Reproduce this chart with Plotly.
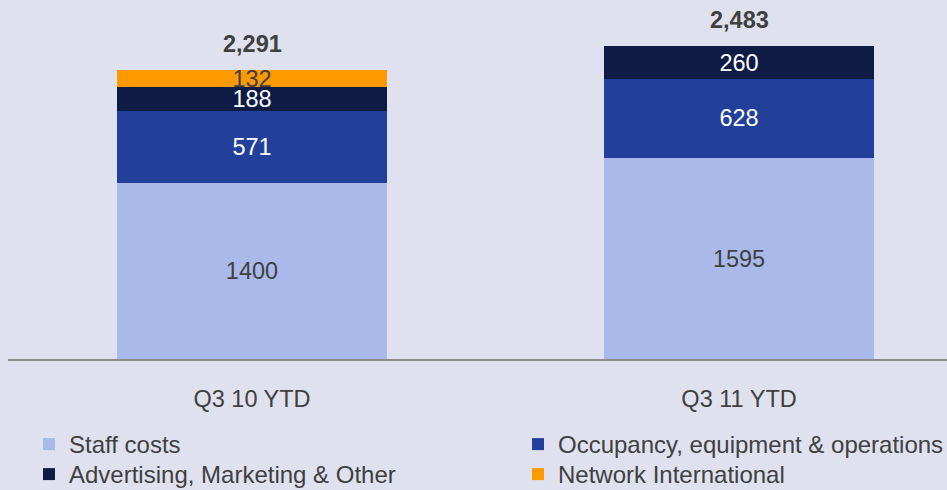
import plotly.graph_objects as go

categories = ["Q3 10 YTD", "Q3 11 YTD"]
staff_costs = [1400, 1595]
occupancy = [571, 628]
advertising = [188, 260]
network_intl = [132, 0]
totals = [2291, 2483]
total_labels = ["2,291", "2,483"]

FONT = "Liberation Sans, Arial, sans-serif"
BG = "#DFE1EE"
DARK = "#404040"
FS = 23.5

fig = go.Figure()

def seg(name, vals, color, txtcolor, legend):
    texts = [str(v) if v else "" for v in vals]
    fig.add_trace(go.Bar(
        name=name, x=categories, y=vals, marker=dict(color=color, line=dict(width=0)),
        text=texts, texttemplate="%{text}", textposition="inside", insidetextanchor="middle",
        constraintext="none", textangle=0,
        textfont=dict(family=FONT, size=FS, color=txtcolor),
        width=0.554, legend=legend, hoverinfo="skip", cliponaxis=False,
    ))

seg("Staff costs", staff_costs, "#A9BAEA", DARK, "legend")
seg("Occupancy, equipment & operations", occupancy, "#22409A", "#FFFFFF", "legend2")
seg("Advertising, Marketing & Other", advertising, "#0D1B45", "#FFFFFF", "legend3")
seg("Network International", network_intl, "#FF9900", DARK, "legend4")

for c, t, lab in zip(categories, totals, total_labels):
    fig.add_annotation(x=c, y=t, text="<b>%s</b>" % lab, showarrow=False,
                       yanchor="bottom", yshift=11,
                       font=dict(family=FONT, size=FS, color=DARK))

legend_common = dict(orientation="v", xref="container", yref="container",
                     xanchor="left", yanchor="top", bgcolor="rgba(0,0,0,0)",
                     font=dict(family=FONT, size=24, color=DARK),
                     traceorder="normal", itemclick=False, itemdoubleclick=False,
                     tracegroupgap=0)

ROW1, ROW2 = 422, 452
COL1, COL2 = 29, 518

fig.update_layout(
    width=947, height=490,
    paper_bgcolor=BG, plot_bgcolor=BG,
    margin=dict(l=8, r=0, t=0, b=131, autoexpand=False),
    barmode="stack",
    showlegend=True,
    legend=dict(x=COL1 / 947, y=1 - ROW1 / 490, **legend_common),
    legend2=dict(x=COL2 / 947, y=1 - ROW1 / 490, **legend_common),
    legend3=dict(x=COL1 / 947, y=1 - ROW2 / 490, **legend_common),
    legend4=dict(x=COL2 / 947, y=1 - ROW2 / 490, **legend_common),
    xaxis=dict(range=[-0.501, 1.427], showgrid=False, zeroline=False,
               showline=True, linecolor="#8C8C8C", linewidth=2,
               ticks="", ticklabelstandoff=18, tickangle=0,
               tickfont=dict(family=FONT, size=FS, color=DARK), fixedrange=True),
    yaxis=dict(range=[0, 2849], visible=False, showgrid=False, fixedrange=True),
)

fig.write_html(
    "out.html",
    config={"displayModeBar": False, "staticPlot": True},
    post_script="document.body.style.margin='0';document.body.style.background='%s';" % BG,
)
